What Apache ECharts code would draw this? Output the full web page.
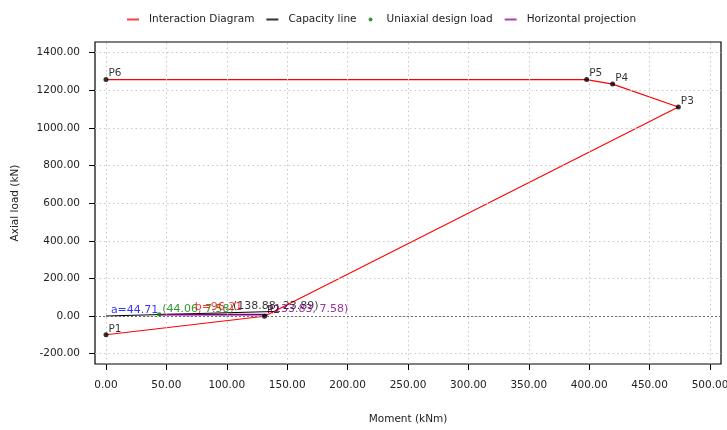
<!DOCTYPE html>
<html><head><meta charset="utf-8">
<script src="https://cdn.jsdelivr.net/npm/echarts@6/dist/echarts.min.js"></script>
<style>html,body{margin:0;padding:0;background:#fff}#c{width:727px;height:430px}</style>
</head><body><div id="c"></div>
<script>
// ---- data ----
const pointNames = ['P1', 'P2', 'P3', 'P4', 'P5', 'P6'];
const diagramMoment = [0, 131.2, 473.8, 419.4, 397.9, 0];
const diagramAxial = [-100, -1, 1111, 1233, 1257, 1257];
const capacityMoment = [0, 138.88];
const capacityAxial = [0, 23.89];
const designLoad = [44.06, 7.58];
const projectionEnd = [133.83, 7.58];
const xTicks = [0, 50, 100, 150, 200, 250, 300, 350, 400, 450, 500];
const yTicks = [-200, 0, 200, 400, 600, 800, 1000, 1200, 1400];

// ---- derived ----
const FONT = 'DejaVu Sans';
const FS = 10.5;
const diagram = diagramMoment.map((m, i) => [m, diagramAxial[i]]);
const capacity = capacityMoment.map((m, i) => [m, capacityAxial[i]]);
const capEnd = capacity[capacity.length - 1];
const aLen = Math.hypot(designLoad[0], designLoad[1]);
const bLen = Math.hypot(capEnd[0], capEnd[1]) - aLen;
const midA = [designLoad[0] / 2, designLoad[1] / 2];
const midB = [(designLoad[0] + capEnd[0]) / 2, (designLoad[1] + capEnd[1]) / 2];
const fmt = v => v.toFixed(2);

const lineIcon = 'path://M0,0 L12,0 L12,2 L0,2 Z';

const gridLines = [];
xTicks.forEach(v => gridLines.push({ xAxis: v }));
yTicks.forEach(v => gridLines.push({ yAxis: v }));
gridLines.push({ yAxis: 0, lineStyle: { color: '#707070', type: [2, 2], width: 1 } });

const annotations = [
  { value: midA, label: { formatter: 'a=' + fmt(aLen), color: '#0000ff', position: 'top', distance: 0, offset: [2, 0] } },
  { value: designLoad, label: { formatter: '(' + fmt(designLoad[0]) + ', ' + fmt(designLoad[1]) + ')', color: '#008000', position: 'right', distance: 3, offset: [0, -5] } },
  { value: midB, label: { formatter: 'b=' + fmt(bLen), color: '#ff0000', position: 'top', distance: 0, offset: [2, 0] } },
  { value: capEnd, label: { formatter: '(' + fmt(capEnd[0]) + ', ' + fmt(capEnd[1]) + ')', color: '#000000', position: 'top', distance: 0, offset: [2, 0] } },
  { value: projectionEnd, label: { formatter: '(' + fmt(projectionEnd[0]) + ', ' + fmt(projectionEnd[1]) + ')', color: '#800080', position: 'right', distance: 2, offset: [0, -5] } }
];

const chart = echarts.init(document.getElementById('c'), null, { renderer: 'canvas' });
chart.setOption({
  animation: false,
  textStyle: { fontFamily: FONT },
  legend: {
    top: 9, left: 122,
    itemWidth: 12, itemHeight: 4, itemGap: 12,
    textStyle: { fontFamily: FONT, fontSize: FS, color: '#222', padding: [0, 0, 0, 5] },
    data: [
      { name: 'Interaction Diagram', icon: lineIcon },
      { name: 'Capacity line', icon: lineIcon },
      { name: 'Uniaxial design load', icon: 'circle' },
      { name: 'Horizontal projection', icon: lineIcon }
    ]
  },
  grid: { left: 95, right: 6, top: 42, bottom: 66, containLabel: false, outerBoundsMode: 'none', show: true, borderColor: '#000', borderWidth: 1.2, backgroundColor: 'transparent' },
  xAxis: {
    type: 'value', min: -9.1, max: 509.1,
    name: 'Moment (kNm)', nameLocation: 'middle', nameGap: 50,
    nameTextStyle: { fontFamily: FONT, fontSize: FS, color: '#222' },
    axisLine: { show: false, onZero: false },
    axisTick: { show: true, inside: false, length: 6, lineStyle: { color: '#000' }, customValues: xTicks },
    axisLabel: { margin: 16, fontFamily: FONT, fontSize: FS, color: '#222', formatter: v => v.toFixed(2), customValues: xTicks, showMinLabel: true, showMaxLabel: true },
    splitLine: { show: false }
  },
  yAxis: {
    type: 'value', min: -255.2, max: 1456.9,
    name: 'Axial load (kN)', nameLocation: 'middle', nameGap: 74, nameRotate: 90,
    nameTextStyle: { fontFamily: FONT, fontSize: FS, color: '#222' },
    axisLine: { show: false, onZero: false },
    axisTick: { show: true, inside: false, length: 6, lineStyle: { color: '#000' }, customValues: yTicks },
    axisLabel: { margin: 15, fontFamily: FONT, fontSize: FS, color: '#222', formatter: v => v.toFixed(2), customValues: yTicks },
    splitLine: { show: false }
  },
  series: [
    {
      name: 'gridlines', type: 'line', data: [], z: 1, silent: true,
      markLine: {
        silent: true, symbol: 'none', label: { show: false }, animation: false,
        lineStyle: { color: '#c8c8c8', type: [1.5, 3], width: 1 },
        data: gridLines
      }
    },
    {
      name: 'Interaction Diagram', type: 'line', data: diagram, showSymbol: false, z: 3,
      lineStyle: { color: '#ff0000', width: 1.1 }, itemStyle: { color: '#ff4040' }
    },
    {
      name: 'Capacity line', type: 'line', data: capacity, showSymbol: false, z: 3,
      lineStyle: { color: '#000000', width: 1.1 }, itemStyle: { color: '#333' }
    },
    {
      name: 'Horizontal projection', type: 'line', data: [designLoad, projectionEnd], showSymbol: false, z: 3,
      lineStyle: { color: '#800080', width: 1.8 }, itemStyle: { color: '#b040b0' }
    },
    {
      name: 'Uniaxial design load', type: 'scatter', data: [designLoad], symbolSize: 4.5, z: 4,
      itemStyle: { color: '#008000' }
    },
    {
      name: 'points', type: 'scatter', symbolSize: 5, z: 5,
      itemStyle: { color: '#000' },
      data: diagram.map((p, i) => ({ value: p, name: pointNames[i] })),
      label: { show: true, formatter: p => p.name, position: 'right', distance: 0, offset: [0, -6], fontFamily: FONT, fontSize: FS, color: '#000' }
    },
    {
      name: 'annotations', type: 'scatter', symbolSize: 0, z: 6, silent: true,
      data: annotations,
      label: { show: true, fontFamily: FONT, fontSize: 11 }
    }
  ]
});
</script></body></html>
